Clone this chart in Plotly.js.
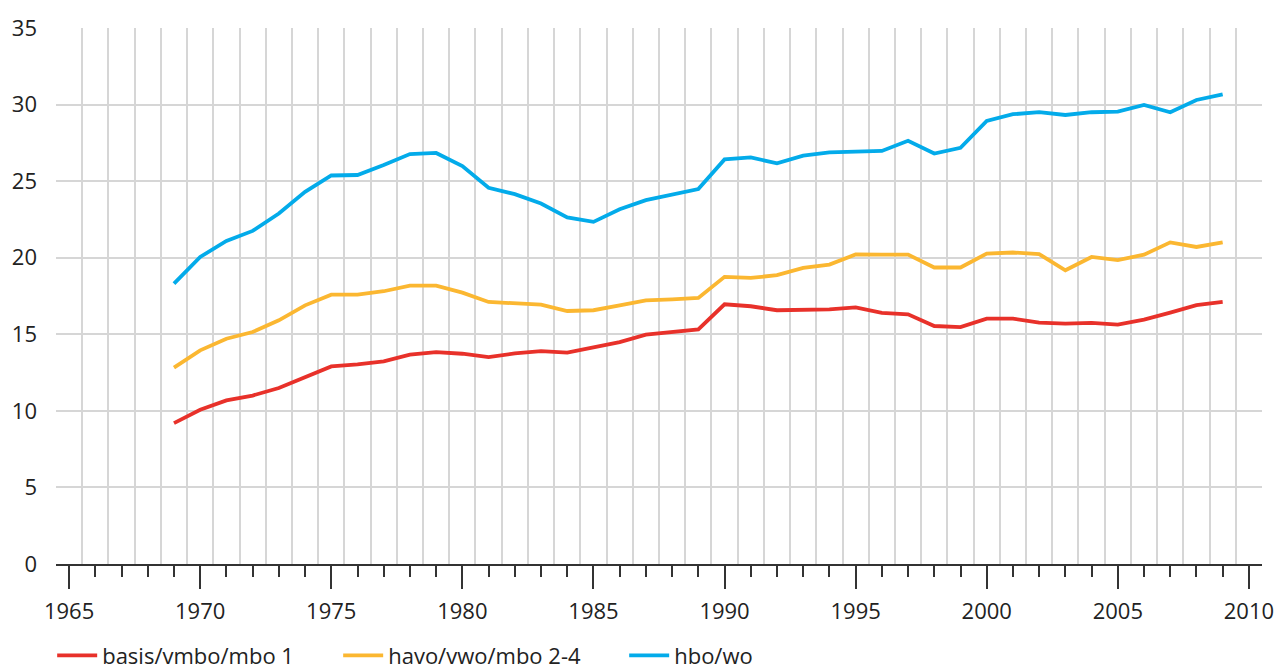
<!DOCTYPE html>
<html>
<head>
<meta charset="utf-8">
<script src="https://cdn.plot.ly/plotly-3.0.1.min.js"></script>
<style>html,body{margin:0;padding:0;background:#fff;}#chart{width:1275px;height:670px;}</style>
</head>
<body>
<div id="chart"></div>
<script>
var years = [1969,1970,1971,1972,1973,1974,1975,1976,1977,1978,1979,1980,1981,1982,1983,1984,1985,1986,1987,1988,1989,1990,1991,1992,1993,1994,1995,1996,1997,1998,1999,2000,2001,2002,2003,2004,2005,2006,2007,2008,2009];
var basis = [9.2,10.07,10.68,11.0,11.49,12.2,12.9,13.03,13.23,13.67,13.84,13.73,13.51,13.75,13.9,13.8,14.17,14.49,14.98,15.15,15.32,16.96,16.83,16.57,16.61,16.63,16.76,16.4,16.3,15.54,15.47,16.02,16.02,15.76,15.7,15.74,15.63,15.96,16.42,16.9,17.11];
var havo = [12.82,13.95,14.71,15.15,15.91,16.89,17.59,17.59,17.81,18.18,18.18,17.72,17.11,17.05,16.94,16.52,16.57,16.89,17.22,17.28,17.37,18.75,18.68,18.86,19.33,19.55,20.21,20.2,20.2,19.36,19.36,20.27,20.34,20.24,19.18,20.05,19.84,20.2,21.0,20.7,21.0];
var hbo = [18.31,20.05,21.1,21.75,22.89,24.3,25.37,25.4,26.05,26.77,26.84,25.98,24.57,24.15,23.54,22.63,22.34,23.17,23.76,24.13,24.48,26.42,26.55,26.16,26.66,26.88,26.94,26.97,27.64,26.8,27.18,28.93,29.37,29.5,29.32,29.5,29.54,29.97,29.5,30.3,30.67];
var seriesNames = ['basis/vmbo/mbo 1','havo/vwo/mbo 2-4','hbo/wo'];
var colors = ['#e8312a','#fbb731','#03abea'];
var gridYears = [];
for (var g = 1964.5; g <= 2010.5; g += 1) gridYears.push(g);

var font = 'Open Sans, Lato, sans-serif';
var traces = [basis, havo, hbo].map(function(v, i){
  return {x: years, y: v, type: 'scatter', mode: 'lines', name: seriesNames[i],
    line: {color: colors[i], width: 3.8}, xaxis: 'x2', yaxis: 'y', hoverinfo: 'x+y'};
});
traces.unshift({x: [1964.5, 2010.5], y: [null, null], type: 'scatter', mode: 'lines', xaxis: 'x', yaxis: 'y', showlegend: false, hoverinfo: 'skip'});

var layout = {
  width: 1275, height: 670,
  margin: {l: 56, r: 13, t: 28, b: 106, autoexpand: false},
  paper_bgcolor: '#fff', plot_bgcolor: '#fff',
  font: {family: font, size: 22, color: '#222'},
  showlegend: true,
  legend: {orientation: 'h', x: 56/1275 - 0.003, xanchor: 'left', xref: 'container',
    y: 14.5/670, yanchor: 'middle', yref: 'container',
    font: {family: font, size: 22, color: '#222'}, itemwidth: 40, entrywidth: 231, entrywidthmode: 'pixels', traceorder: 'normal'},
  xaxis: {range: [1964.5, 2010.5], tickvals: gridYears, showticklabels: false, ticks: '',
    showgrid: true, gridcolor: '#d6d6d6', gridwidth: 2, zeroline: false, showline: false, fixedrange: true},
  xaxis2: {range: [1964.5, 2010.5], overlaying: 'x', anchor: 'y', side: 'bottom',
    tick0: 1965, dtick: 5, ticks: 'outside', ticklen: 23, tickwidth: 2, tickcolor: '#333',
    showline: true, linecolor: '#333', linewidth: 2, showgrid: false, zeroline: false,
    minor: {dtick: 1, tick0: 1965, ticks: 'outside', ticklen: 11, tickwidth: 2, tickcolor: '#333', showgrid: false},
    tickfont: {family: font, size: 22, color: '#222'}, ticklabelstandoff: 4},
  yaxis: {range: [0, 35], dtick: 5, tick0: 0, showgrid: true, gridcolor: '#d6d6d6', gridwidth: 2,
    zeroline: false, showline: false, ticks: '', ticklabelstandoff: 18,
    tickfont: {family: font, size: 22, color: '#222'}}
};
Plotly.newPlot('chart', traces, layout, {displayModeBar: false, staticPlot: true});
</script>
</body>
</html>
